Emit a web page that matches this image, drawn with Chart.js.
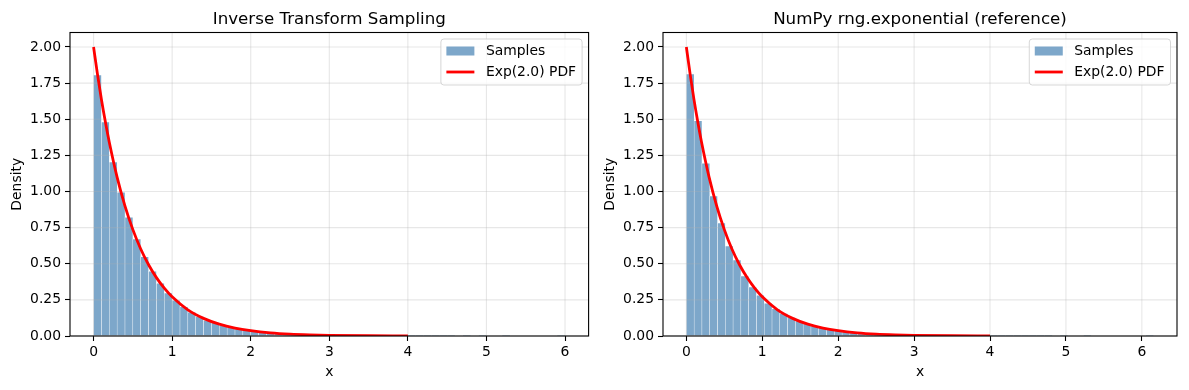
<!DOCTYPE html>
<html><head><meta charset="utf-8">
<script src="https://cdn.jsdelivr.net/npm/chart.js@4.4.1/dist/chart.umd.min.js"></script>
<style>
html,body{margin:0;padding:0;background:#fff;}
#wrap{position:relative;width:1189px;height:390px;overflow:hidden;}
canvas{position:absolute;top:0;}
</style></head><body>
<div id="wrap">
<canvas id="c1" width="594" height="390" style="left:0"></canvas>
<canvas id="c2" width="595" height="390" style="left:594px"></canvas>
</div>
<script>
// ---- data ----
const titles = ["Inverse Transform Sampling", "NumPy rng.exponential (reference)"];
const legendLabels = ["Samples", "Exp(2.0) PDF"];
const binCount = 60;
const leftRange = [0, 6.0];     // histogram range (min, max sample)
const rightRange = [0, 6.155];
const leftDensity = [1.806,1.481,1.204,0.994,0.821,0.670,0.548,0.447,0.364,0.297,
 0.246,0.201,0.163,0.134,0.108,0.091,0.074,0.060,0.050,0.040,
 0.033,0.028,0.022,0.018,0.015,0.012,0.010,0.008,0.007,0.005,
 0.004,0.0035,0.003,0.002,0.002,0.0015,0.001,0.001,0.0008,0.0005,
 0.0005,0.0003,0.0003,0.0002,0.0002,0.0001,0,0.0001,0,0.0001,
 0,0,0.0001,0,0,0,0,0,0,0.0001];
const rightDensity = [1.813,1.488,1.195,0.969,0.782,0.623,0.526,0.415,0.339,0.281,
 0.226,0.188,0.155,0.127,0.103,0.085,0.069,0.056,0.046,0.038,
 0.031,0.025,0.021,0.017,0.014,0.011,0.009,0.0075,0.006,0.005,
 0.004,0.0033,0.0027,0.002,0.0018,0.0014,0.001,0.001,0.0008,0.0006,
 0.0004,0.0003,0.0003,0.0002,0.0001,0.0001,0.0001,0,0.0001,0,
 0,0.0001,0,0,0,0,0,0,0,0.0001];
const pdfX = [0,0.05,0.1,0.15,0.2,0.3,0.4,0.5,0.6,0.7,0.8,0.9,1.0,1.2,1.4,1.6,1.8,2.0,2.25,2.5,2.75,3.0,3.5,4.0];
const pdfY = [2.000,1.810,1.637,1.482,1.341,1.098,0.899,0.736,0.602,0.493,0.404,0.331,0.271,0.181,0.122,0.082,0.055,0.037,0.022,0.013,0.008,0.005,0.002,0.001];
const xTicks = [0,1,2,3,4,5,6];
const yTicks = [0,0.25,0.5,0.75,1.0,1.25,1.5,1.75,2.0];

const FONT = "'DejaVu Sans', sans-serif";
Chart.defaults.font.family = FONT;
Chart.defaults.color = '#000';

function binCenters(range){
  const w = (range[1]-range[0])/binCount;
  const c = [];
  for (let i=0;i<binCount;i++) c.push(range[0]+w*(i+0.5));
  return c;
}

const deco = {
  id:'deco',
  beforeDatasetDraw(chart, args, opts){
    if (args.index !== 1) return;
    const ctx = chart.ctx, ca = chart.chartArea;
    const xs = chart.scales.x, ys = chart.scales.y;
    ctx.save();
    ctx.strokeStyle = 'rgba(176,176,176,0.3)';
    ctx.lineWidth = 1.1;
    xs.ticks.forEach(t=>{const p=xs.getPixelForValue(t.value);ctx.beginPath();ctx.moveTo(p,ca.top);ctx.lineTo(p,ca.bottom);ctx.stroke();});
    ys.ticks.forEach(t=>{const p=ys.getPixelForValue(t.value);ctx.beginPath();ctx.moveTo(ca.left,p);ctx.lineTo(ca.right,p);ctx.stroke();});
    ctx.restore();
  },
  afterDraw(chart, args, opts){
    const ctx = chart.ctx, ca = chart.chartArea;
    ctx.save();
    // spines
    ctx.strokeStyle = '#000'; ctx.lineWidth = 1.1;
    ctx.strokeRect(ca.left, ca.top, ca.right-ca.left, ca.bottom-ca.top);
    // title
    ctx.fillStyle = '#000';
    ctx.font = '16.7px ' + FONT;
    ctx.textAlign = 'center'; ctx.textBaseline = 'alphabetic';
    ctx.fillText(opts.title, (ca.left+ca.right)/2, 24);
    // legend
    ctx.font = '13.9px ' + FONT;
    const tw = Math.max(...legendLabels.map(l=>ctx.measureText(l).width));
    const bw = 45 + tw + 6, bh = 46;
    const bx = ca.right - 6.5 - bw, by = ca.top + 6.5;
    ctx.beginPath();
    ctx.roundRect(bx, by, bw, bh, 3);
    ctx.fillStyle = 'rgba(255,255,255,0.8)'; ctx.fill();
    ctx.strokeStyle = 'rgba(204,204,204,0.8)'; ctx.lineWidth = 1; ctx.stroke();
    ctx.fillStyle = 'rgba(70,130,180,0.7)';
    ctx.fillRect(bx+5.5, by+7.5, 28, 9);
    ctx.strokeStyle = '#ff0000'; ctx.lineWidth = 2.8;
    ctx.beginPath(); ctx.moveTo(bx+5.5, by+33); ctx.lineTo(bx+33.5, by+33); ctx.stroke();
    ctx.fillStyle = '#000'; ctx.textAlign = 'left'; ctx.textBaseline = 'middle';
    ctx.fillText(legendLabels[0], bx+45, by+12);
    ctx.fillText(legendLabels[1], bx+45, by+33);
    ctx.restore();
  }
};

function makeChart(id, title, density, range, xlim, yAxisWidth, padRight){
  const centers = binCenters(range);
  const barData = centers.map((c,i)=>({x:c, y:density[i]}));
  const lineData = pdfX.map((x,i)=>({x:x, y:pdfY[i]}));
  const tickFont = {family: FONT, size: 13.9};
  return new Chart(document.getElementById(id), {
    type:'bar',
    data:{datasets:[
      {type:'bar', label:legendLabels[0], data:barData, order:2,
       backgroundColor:'rgba(70,130,180,0.7)', borderColor:'rgba(255,255,255,0.9)', borderWidth:0.5,
       barPercentage:1, categoryPercentage:1, borderSkipped:'start'},
      {type:'line', label:legendLabels[1], data:lineData, order:1,
       borderColor:'#ff0000', borderWidth:2.8, pointRadius:0, fill:false, cubicInterpolationMode:'monotone'}
    ]},
    options:{
      responsive:false, animation:false, devicePixelRatio:1,
      layout:{padding:{top:32.5, left:0, right:padRight, bottom:0}},
      plugins:{legend:{display:false}, tooltip:{enabled:false}, deco:{title:title}},
      scales:{
        x:{type:'linear', min:xlim[0], max:xlim[1], offset:false,
           grid:{offset:false, drawOnChartArea:false, drawTicks:true, tickLength:5, tickColor:'#000', tickWidth:1.1},
           border:{display:false},
           ticks:{stepSize:1, padding:3, color:'#000', font:tickFont, maxRotation:0, autoSkip:false,
                  callback:v=>String(v)},
           afterBuildTicks:s=>{s.ticks = xTicks.map(v=>({value:v}));},
           title:{display:true, text:'x', color:'#000', font:tickFont, padding:{top:0,bottom:9}},
           afterFit:s=>{s.height = 54;}
        },
        y:{type:'linear', min:0, max:2.1,
           grid:{offset:false, drawOnChartArea:false, drawTicks:true, tickLength:5, tickColor:'#000', tickWidth:1.1},
           border:{display:false},
           ticks:{stepSize:0.25, padding:4, color:'#000', font:tickFont, autoSkip:false,
                  callback:v=>Number(v).toFixed(2)},
           afterBuildTicks:s=>{s.ticks = yTicks.map(v=>({value:v}));},
           title:{display:true, text:'Density', color:'#000', font:tickFont, padding:{top:yAxisWidth-53-8.34, bottom:0}},
           afterFit:s=>{s.width = yAxisWidth;}
        }
      }
    },
    plugins:[deco]
  });
}

makeChart('c1', titles[0], leftDensity, leftRange, [-0.3, 6.3], 70, 5.4);
makeChart('c2', titles[1], rightDensity, rightRange, [-0.3078, 6.463], 69, 12);
</script>
</body></html>
